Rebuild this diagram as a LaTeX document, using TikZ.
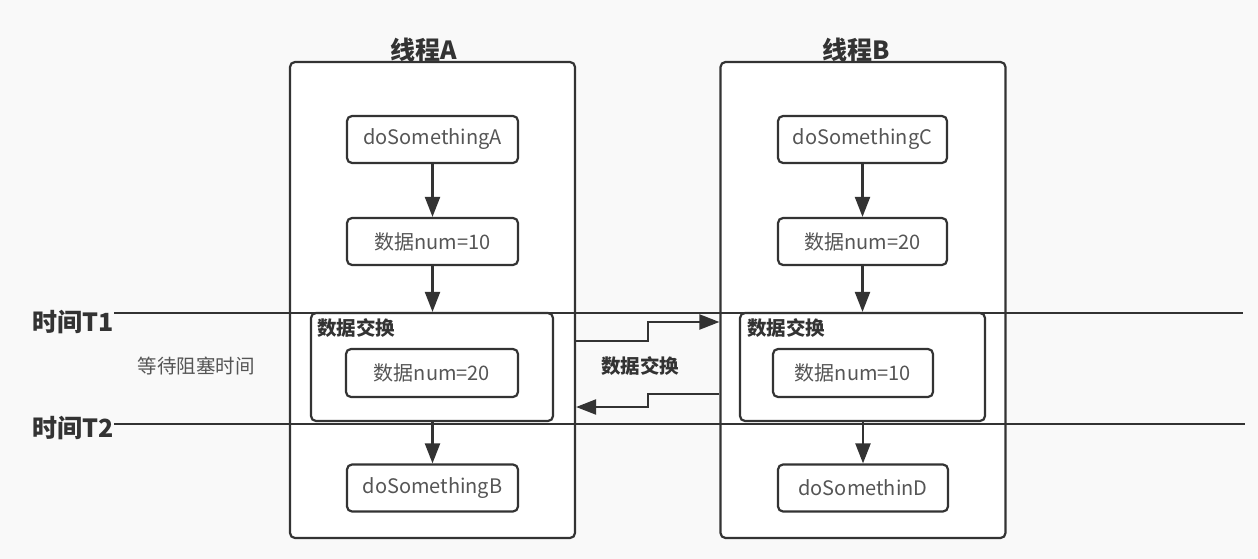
\documentclass[tikz,border=0pt]{standalone}
\usepackage{fontspec}
\setmainfont{Noto Sans CJK SC}
\usetikzlibrary{arrows.meta,positioning}
\definecolor{ln}{HTML}{333333}
\definecolor{tx}{HTML}{555555}
\definecolor{bg}{HTML}{F9F9F9}
\begin{document}
\begin{tikzpicture}[x=1pt,y=-1pt,
  thread/.style={draw=ln,line width=2.2pt,fill=white,rounded corners=5pt,minimum width=285pt,minimum height=476pt,inner sep=0pt},
  exbox/.style={draw=ln,line width=2.2pt,fill=white,rounded corners=5pt,minimum height=108pt,inner sep=0pt},
  stepbox/.style={draw=ln,line width=2.2pt,fill=white,rounded corners=5pt,minimum width=171pt,minimum height=47pt,inner sep=0pt,text=tx,font=\fontsize{20}{24}\selectfont},
  title/.style={text=ln,font=\fontsize{25}{30}\selectfont\bfseries},
  lab/.style={text=ln,font=\fontsize{19.5}{23}\selectfont\bfseries},
  flow/.style={draw=ln,line width=2.2pt,-{Triangle[length=20pt,width=15pt]}},
  tline/.style={draw=ln,line width=2.2pt}
]
\fill[bg] (0,0) rectangle (1258,559);
\useasboundingbox (0,0) rectangle (1258,559);
% thread boxes
\node[thread] (thA) at (432.5,300) {};
\node[thread] (thB) at (863,300) {};
\node[title,anchor=south,inner sep=1pt] (tA) at (424,63) {线程A};
\node[title,anchor=south,inner sep=1pt] (tB) at (856,63) {线程B};
% timelines
\node[text=ln,font=\fontsize{25}{30}\selectfont\bfseries,anchor=east,inner sep=0pt] (t1) at (114,322) {时间T1};
\node[text=ln,font=\fontsize{25}{30}\selectfont\bfseries,anchor=east,inner sep=0pt] (t2) at (114,428) {时间T2};
\coordinate (t1e) at (1243,313);
\coordinate (t2e) at (1245,424);
\draw[tline] (t1.east |- 0,313) -- (t1e);
\draw[tline] (t2.east |- 0,424) -- (t2e);
\node[text=tx,font=\fontsize{19.5}{23}\selectfont] (wait) at (196,366) {等待阻塞时间};
% exchange boxes
\node[exbox,minimum width=242pt] (exA) at (432,367) {};
\node[exbox,minimum width=245pt] (exB) at (862.5,367) {};
\node[lab,anchor=north west,inner sep=0pt] (exAl) at (317,318) {数据交换};
\node[lab,anchor=north west,inner sep=0pt] (exBl) at (747,318) {数据交换};
% step boxes A
\node[stepbox] (a1) at (432.5,139.5) {doSomethingA};
\node[stepbox] (a2) at (432.5,241.5) {数据num=10};
\node[stepbox,minimum width=172pt,minimum height=48pt] (a3) at (432,373) {数据num=20};
\node[stepbox] (a4) at (432.5,488) {doSomethingB};
% step boxes B
\node[stepbox,minimum width=169pt] (b1) at (862.5,139.5) {doSomethingC};
\node[stepbox,minimum width=169pt] (b2) at (862.5,241.5) {数据num=20};
\node[stepbox,minimum width=160pt,minimum height=48pt] (b3) at (853,373) {数据num=10};
\node[stepbox,minimum width=170pt] (b4) at (863,488) {doSomethinD};
% flows
\draw[flow] (a1) -- (a2);
\draw[flow] (a2) -- (a2 |- exA.north);
\draw[flow] (exA.south -| a4) -- (a4);
\draw[flow] (b1) -- (b2);
\draw[flow] (b2) -- (b2 |- exB.north);
\draw[flow] (exB.south -| b4) -- (b4);
% exchange arrows
\draw[flow] (thA.east |- 0,341) -- (648,341) -- (648,322) -- (thB.west |- 0,322);
\draw[flow] (thB.west |- 0,394) -- (648,394) -- (648,407) -- (thA.east |- 0,407);
\node[lab] (exl) at (640,366) {数据交换};
\end{tikzpicture}
\end{document}
